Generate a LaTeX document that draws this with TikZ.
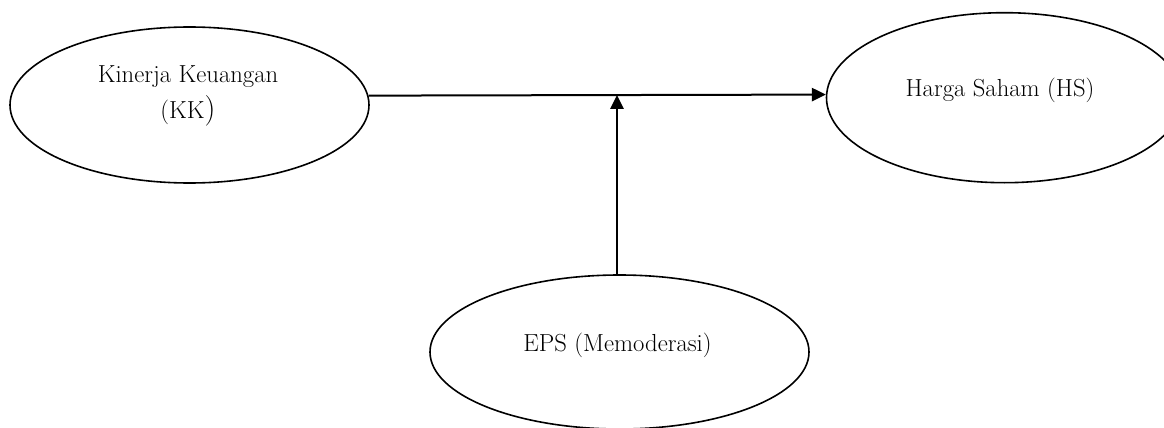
\documentclass[tikz,border=0pt]{standalone}
\usetikzlibrary{arrows.meta,shapes.geometric}
\begin{document}
\begin{tikzpicture}[x=0.75pt,y=-0.75pt,
  var/.style={draw,ellipse,line width=1.2pt,inner sep=0pt},
  lbl/.style={font=\fontsize{18.5pt}{27pt}\selectfont,align=center,inner sep=0pt},
  link/.style={line width=1.5pt,-{Triangle[length=10.5pt,width=10pt]}}]
\useasboundingbox (0,0) rectangle (1164,428);
% variables
\node[var,minimum width=359*0.75pt,minimum height=156*0.75pt] (kk) at (189.5,105) {};
\node[var,minimum width=356*0.75pt,minimum height=170*0.75pt] (hs) at (1004.5,97.7) {};
\node[var,minimum width=379*0.75pt,minimum height=154*0.75pt] (eps) at (619.5,352) {};
% labels
\node[lbl] (kkt) at (188,96) {Kinerja Keuangan\\(KK{\fontsize{23pt}{27pt}\selectfont)}};
\node[lbl] (hst) at (1000,90) {Harga Saham (HS)};
\node[lbl] (epst) at (617.5,345) {EPS (Memoderasi)};
% paths
\coordinate (join) at (617,95);
\draw[link] (kk.3) -- (hs.179);
\draw[link] (eps.north -| join) -- (join);
\end{tikzpicture}
\end{document}
